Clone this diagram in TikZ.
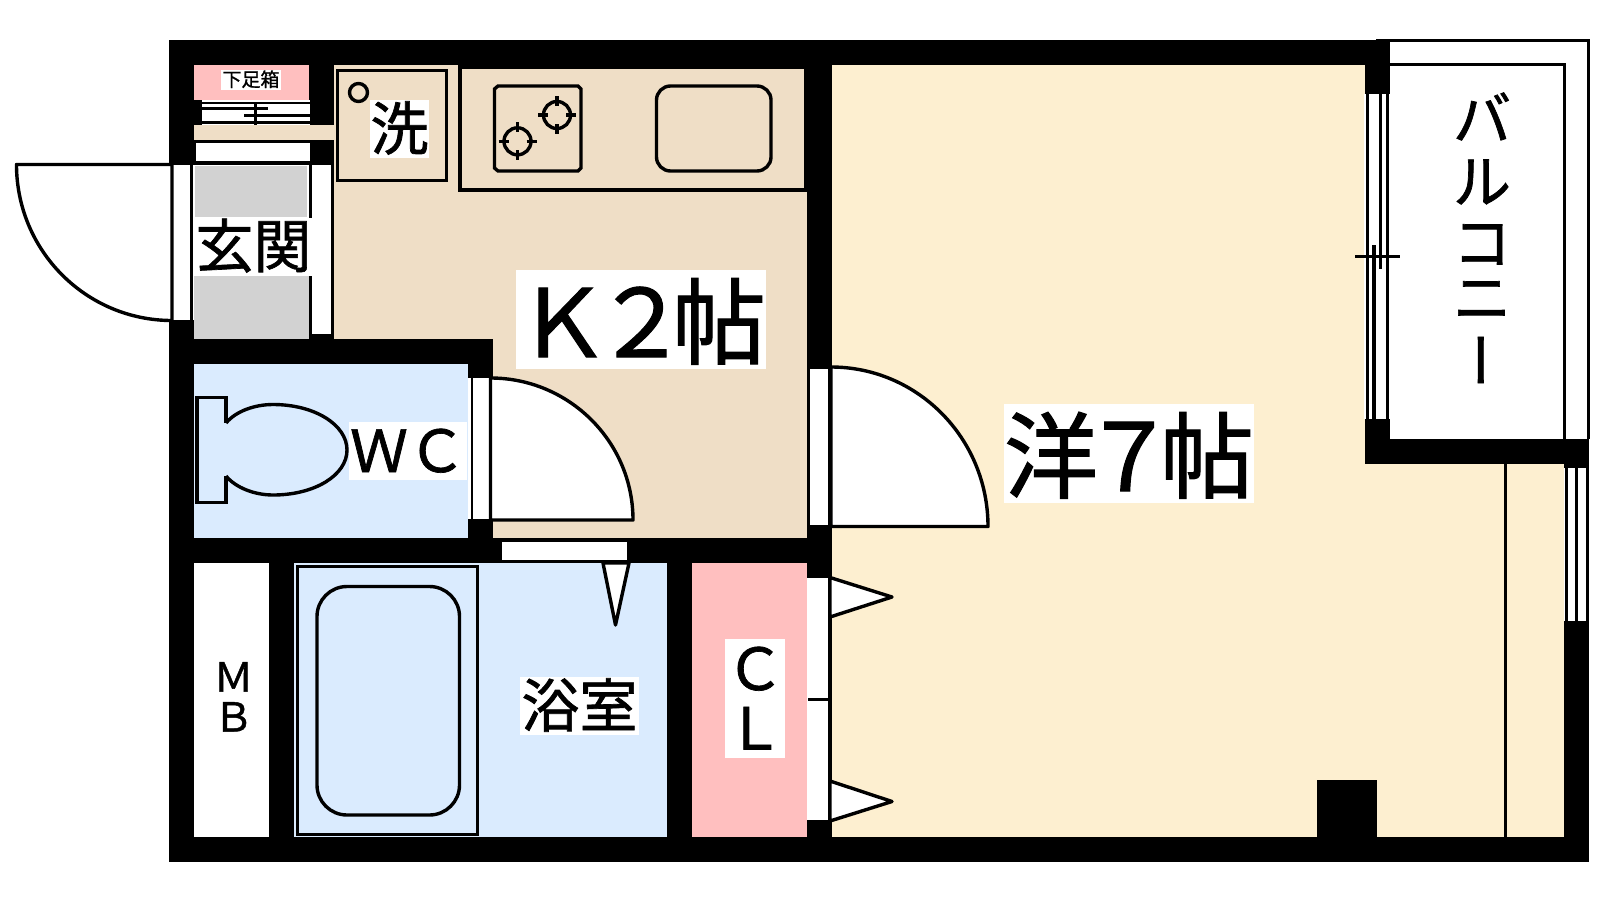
\documentclass[tikz,border=0pt]{standalone}
\usepackage{fontspec}
\setmainfont{Noto Sans CJK JP}[RawFeature={embolden=1.2}]
\definecolor{kit}{HTML}{EFDEC6}
\definecolor{room}{HTML}{FDEFD0}
\definecolor{wet}{HTML}{DAEBFE}
\definecolor{closet}{HTML}{FFBFBF}
\definecolor{entry}{HTML}{D2D2D2}
\newcommand{\fs}[1]{\fontsize{#1}{#1}\selectfont}
\tikzset{
  wall/.style={fill=black},
  leaf/.style={draw=black,line width=3.4pt,fill=white,line join=round},
  fix/.style={draw=black,line width=3.4pt},
  lab/.style={fill=white,inner sep=0pt,outer sep=0pt,align=center,text=black},
  s20/.style={lab,font=\fs{19},text height=17pt,text depth=3pt},
  s60/.style={lab,font=\fs{58},text height=50pt,text depth=8pt},
  s60plain/.style={inner sep=0pt,font=\fs{58},text height=50pt,text depth=8pt},
  s40/.style={inner sep=0pt,font=\fs{40},text height=34pt,text depth=6pt},
  s94/.style={lab,font=\fs{94},text height=87pt,text depth=12pt},
  bal/.style={inner sep=0pt,font=\fs{58},text height=50pt,text depth=8pt},
}
\begin{document}
\begin{tikzpicture}[x=1pt,y=-1pt]
\useasboundingbox (0,0) rectangle (1600,900);
\fill[white] (0,0) rectangle (1600,900);
% floors
\fill[kit] (334,65) rectangle (807,538);
\fill[room] (832,65) rectangle (1365,837);
\fill[room] (1365,464) rectangle (1564,837);
\fill[wet] (194,364) rectangle (468,538);
\fill[wet] (294,563) rectangle (667,837);
\fill[closet] (692,563) rectangle (807,837);
\fill[closet] (194,65) rectangle (309,100);
% entrance floor
\fill[entry] (195,166) rectangle (307,217);
\fill[entry] (194,276) rectangle (309,339);
% walls
\fill[wall] (169,40) rectangle (1390,65);
\fill[wall] (169,40) rectangle (194,165);
\fill[wall] (169,320) rectangle (194,862);
\fill[wall] (169,837) rectangle (1589,862);
\fill[wall] (194,100) rectangle (334,165);
\fill[wall] (309,65) rectangle (334,100);
\fill[wall] (169,339) rectangle (493,364);
\fill[wall] (309,334) rectangle (334,339);
\fill[wall] (468,364) rectangle (493,378);
\fill[wall] (468,519) rectangle (493,538);
\fill[wall] (169,538) rectangle (832,563);
\fill[wall] (269,563) rectangle (294,837);
\fill[wall] (667,563) rectangle (692,837);
\fill[wall] (807,40) rectangle (832,369);
\fill[wall] (807,524) rectangle (832,578);
\fill[wall] (807,820) rectangle (832,862);
\fill[wall] (1365,40) rectangle (1390,94);
\fill[wall] (1365,419) rectangle (1390,464);
\fill[wall] (1365,439) rectangle (1589,464);
\fill[wall] (1564,439) rectangle (1589,468);
\fill[wall] (1564,621) rectangle (1589,862);
\fill[wall] (1317,780) rectangle (1377,837);
% shoe cupboard and entrance step
\fill[white] (202,100) rectangle (310,125);
\fill[wall] (202,101.5) rectangle (310,103.5);
\fill[wall] (202,107) rectangle (268,110);
\fill[wall] (244,113.5) rectangle (310,116.5);
\fill[wall] (202,121) rectangle (310,124);
\fill[wall] (254,103) rectangle (257,125);
\fill[kit] (194,125) rectangle (334,139.5);
\fill[white] (196,143) rectangle (310,161);
% entrance door
\fill[white] (172,165) rectangle (191,320);
\fill[wall] (169,165) rectangle (172.5,320);
\fill[wall] (190,165) rectangle (193,320);
\path[leaf] (172,164.5) -- (16.5,164.5) .. controls (16.5,250.7) and (86.1,320.5) .. (172,320.5) -- cycle;
\fill[white] (312,165) rectangle (331,334);
\fill[wall] (309,165) rectangle (312,334);
\fill[wall] (331,165) rectangle (334,334);
% washing place
\draw[fix] (337.5,70.7) rectangle (446.5,180.7);
\draw[fix] (358.5,92.5) circle[radius=9];
% kitchen counter
\draw[fix] (460,67) rectangle (806,190);
\draw[fix] (498,86) -- (578,86) -- (581,89) -- (581,168) -- (578,171) -- (498,171) -- (494.5,168) -- (494.5,89) -- cycle;
\foreach \cx/\cy in {517.5/141.3,557/115}{
  \draw[fix] (\cx,\cy) circle[radius=13.5];
  \draw[fix] (\cx-19,\cy) -- (\cx-9,\cy);
  \draw[fix] (\cx+9,\cy) -- (\cx+19,\cy);
  \draw[fix] (\cx,\cy-19) -- (\cx,\cy-9);
  \draw[fix] (\cx,\cy+9) -- (\cx,\cy+19);
}
\draw[fix,rounded corners=14pt] (656.5,86) rectangle (771,171);
% WC door
\fill[white] (468,378) rectangle (491,519);
\fill[wall] (470.5,378) rectangle (473,519);
\fill[wall] (489.3,378) rectangle (492,519);
\path[leaf] (490.5,378) .. controls (568.9,378) and (633,441.6) .. (633,520) -- (490.5,520) -- cycle;
% toilet
\draw[fix,line join=miter] (226,423) -- (226,397.5) -- (197,397.5) -- (197,502.5) -- (226,502.5) -- (226,476);
\draw[fix] (226,423) .. controls (236,411) and (255,404.5) .. (273,404.5) .. controls (315,404.5) and (347,425) .. (347,450) .. controls (347,475) and (315,495) .. (273,495) .. controls (255,495) and (236,488) .. (226,476);
% bath door
\fill[white] (502,542) rectangle (627,560);
\path[leaf] (603,563) -- (615.5,625) -- (629,563) -- cycle;
% bath tub
\draw[fix] (297.5,566.5) rectangle (477.5,834.5);
\draw[fix,rounded corners=30pt] (317,586.5) rectangle (459.5,815);
% room door
\fill[white] (807,369) rectangle (828,525);
\fill[wall] (807,369) rectangle (810,525);
\fill[wall] (828,366) rectangle (831,525);
\path[leaf] (831,367) .. controls (917.7,367) and (988,438.4) .. (988,526.5) -- (831,526.5) -- cycle;
% closet doors
\fill[white] (807,578) rectangle (828,820);
\fill[wall] (828,578) rectangle (831.5,820);
\fill[wall] (808,698) rectangle (831,700.5);
\path[leaf] (830,577.5) -- (892,597) -- (830,617) -- cycle;
\path[leaf] (830,781) -- (892,801.5) -- (830,821) -- cycle;
% balcony
\draw[fix] (1376,40.5) -- (1588.5,40.5) -- (1588.5,439);
\draw[fix] (1390,64.5) -- (1564.5,64.5) -- (1564.5,439);
% balcony window
\fill[white] (1364,94) rectangle (1390,419);
\draw[fix] (1367.5,94) -- (1367.5,419);
\draw[fix] (1387.7,94) -- (1387.7,419);
\draw[fix] (1380.3,94) -- (1380.3,269);
\draw[fix] (1374,245) -- (1374,419);
\draw[fix] (1355,256.7) -- (1400,256.7);
% right window
\fill[white] (1564,468) rectangle (1589,621);
\draw[fix] (1566.5,468) -- (1566.5,621);
\draw[fix] (1576.5,468) -- (1576.5,621);
\draw[fix] (1587.5,468) -- (1587.5,621);
\draw[fix] (1505.5,464) -- (1505.5,837);
% labels
\node[s20,minimum width=60pt] (lshoe) at (251,79.5) {下足箱};
\node[s60,minimum width=59pt] (lwash) at (399.5,129) {洗};
\node[s60,minimum width=117pt] (lentry) at (253.5,246.5) {玄関};
\node[s60,minimum width=118pt] (lwc) at (408,451) {ＷＣ};
\node[s60,minimum width=119pt] (lbath) at (579.5,706) {浴室};
\fill[white] (725,639) rectangle (785,758);
\node[s60plain] (lc) at (755,669) {Ｃ};
\node[s60plain] (ll) at (755,728.5) {Ｌ};
\node[s40] (lm) at (233.5,677.5) {Ｍ};
\node[s40] (lb) at (233.5,717.5) {Ｂ};
\node[s94,minimum width=250pt] (lk) at (641,319.5) {Ｋ\kern-16pt２\kern-16pt帖};
\node[s94,minimum width=250pt] (ly) at (1129,453.5) {洋\kern-16pt７\kern-16pt帖};
\node[bal] (b1) at (1482,119) {バ};
\node[bal] (b2) at (1482,182) {ル};
\node[bal] (b3) at (1482,243) {コ};
\node[bal] (b4) at (1482,298) {ニ};
\node[bal,rotate=90] (b5) at (1482,360) {ー};
\end{tikzpicture}
\end{document}
